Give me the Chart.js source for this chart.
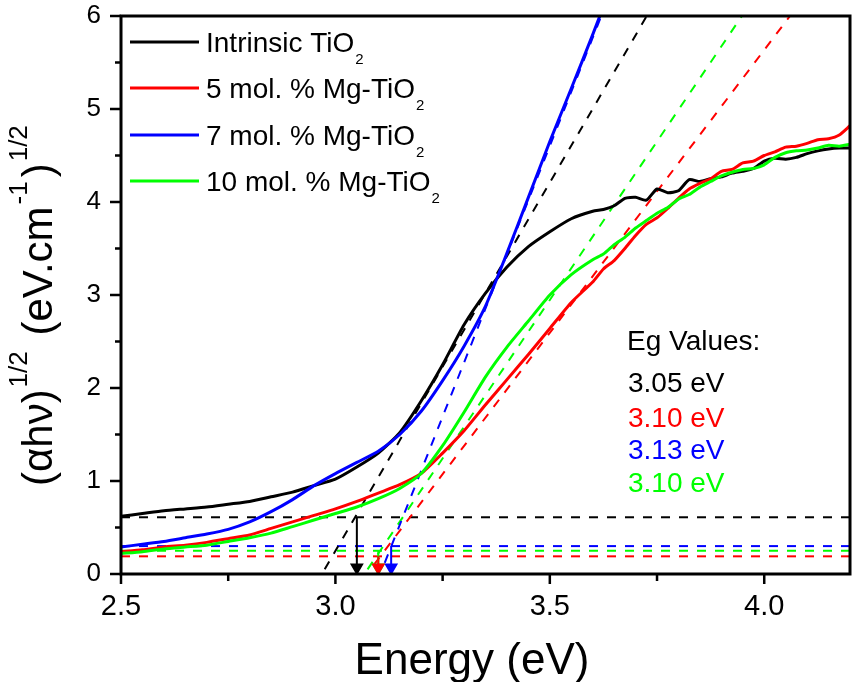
<!DOCTYPE html>
<html>
<head>
<meta charset="utf-8">
<script src="https://cdn.jsdelivr.net/npm/chart.js@4.4.0/dist/chart.umd.min.js"></script>
<style>
html, body { margin: 0; padding: 0; background: #fff; }
</style>
</head>
<body>
<canvas id="mycanvas" width="853" height="682"></canvas>
<script>
// photon energy (eV), shared by all four curves
var energy = [2.50, 2.55, 2.60, 2.65, 2.70, 2.75, 2.80, 2.85, 2.90, 2.95,
              3.00, 3.05, 3.10, 3.15, 3.20, 3.25, 3.30, 3.35, 3.40, 3.45,
              3.50, 3.55, 3.60, 3.625, 3.65, 3.675, 3.70, 3.725, 3.75, 3.775,
              3.80, 3.825, 3.85, 3.875, 3.90, 3.925, 3.95, 3.975, 4.00, 4.025,
              4.05, 4.075, 4.10, 4.125, 4.15, 4.175, 4.20];

// (alpha h nu)^1/2 for each sample
var intrinsic = [0.62, 0.65, 0.68, 0.70, 0.72, 0.75, 0.78, 0.83, 0.88, 0.95,
                 1.02, 1.15, 1.30, 1.52, 1.86, 2.25, 2.68, 3.02, 3.30, 3.52,
                 3.68, 3.82, 3.90, 3.92, 3.96, 4.04, 4.05, 4.02, 4.14, 4.10,
                 4.12, 4.24, 4.22, 4.25, 4.27, 4.31, 4.33, 4.36, 4.44, 4.47,
                 4.46, 4.48, 4.52, 4.55, 4.57, 4.58, 4.58];
var mg5 = [0.24, 0.26, 0.29, 0.31, 0.34, 0.38, 0.42, 0.49, 0.56, 0.63,
           0.70, 0.78, 0.87, 0.96, 1.08, 1.30, 1.54, 1.82, 2.09, 2.36,
           2.64, 2.92, 3.14, 3.28, 3.37, 3.50, 3.64, 3.76, 3.83, 3.93,
           4.04, 4.14, 4.20, 4.25, 4.33, 4.35, 4.42, 4.44, 4.50, 4.54,
           4.59, 4.60, 4.63, 4.67, 4.68, 4.72, 4.82];
var mg7 = [0.29, 0.32, 0.35, 0.39, 0.43, 0.48, 0.56, 0.67, 0.80, 0.95,
           1.08, 1.20, 1.32, 1.50, 1.75, 2.08, 2.45, 2.88, 3.45, 4.05,
           4.65, 5.22, 5.80, 6.10, null, null, null, null, null, null,
           null, null, null, null, null, null, null, null, null, null,
           null, null, null, null, null, null, null];
var mg10 = [0.22, 0.24, 0.27, 0.29, 0.31, 0.35, 0.39, 0.44, 0.51, 0.58,
            0.65, 0.72, 0.81, 0.92, 1.08, 1.38, 1.74, 2.12, 2.44, 2.72,
            3.00, 3.22, 3.38, 3.44, 3.54, 3.62, 3.72, 3.80, 3.88, 3.94,
            4.03, 4.08, 4.16, 4.22, 4.28, 4.32, 4.35, 4.36, 4.40, 4.48,
            4.53, 4.55, 4.56, 4.58, 4.61, 4.60, 4.62];

var names = ['Intrinsic TiO', '5 mol. % Mg-TiO', '7 mol. % Mg-TiO', '10 mol. % Mg-TiO'];
var colors = ['#000000', '#ff0000', '#0000ff', '#00ff00'];
var series = [intrinsic, mg5, mg7, mg10];

// Tauc fits: tangent end points, baseline levels and band gaps
var fitE = [[2.975, 3.726], [3.090, 4.060], [3.115, 3.620], [3.075, 3.948]];
var fitY = [[0.05, 6.0], [0.10, 6.0], [0.12, 6.0], [0.05, 6.0]];
var baseline = [0.61, 0.19, 0.30, 0.25];
var egValues = [3.05, 3.10, 3.13, 3.10];

var xTicks = [2.5, 3.0, 3.5, 4.0];
var xMinor = [2.75, 3.25, 3.75];
var yTicks = [0, 1, 2, 3, 4, 5, 6];

var FONT = "'Liberation Sans', Arial, sans-serif";

var datasets = [];
for (var i = 0; i < 4; i++) {
    // horizontal baseline
    datasets.push({
        data: [{x: 2.5, y: baseline[i]}, {x: 4.2, y: baseline[i]}],
        borderColor: colors[i], borderWidth: 2, borderDash: [9, 9],
        pointRadius: 0, order: 10
    });
    // tangent
    datasets.push({
        data: [{x: fitE[i][0], y: fitY[i][0]}, {x: fitE[i][1], y: fitY[i][1]}],
        borderColor: colors[i], borderWidth: 2, borderDash: [9, 9],
        pointRadius: 0, order: 9
    });
    // arrow down to the band gap
    datasets.push({
        data: [{x: egValues[i], y: baseline[i]}, {x: egValues[i], y: 0.07}],
        borderColor: colors[i], borderWidth: 2,
        pointStyle: 'triangle', pointRotation: 180,
        pointRadius: [0, 6], pointBackgroundColor: colors[i],
        pointBorderColor: colors[i], order: 8
    });
}
for (var i = 3; i >= 0; i--) {
    var pts = [];
    for (var j = 0; j < energy.length; j++) {
        if (series[i][j] !== null) pts.push({x: energy[j], y: series[i][j]});
    }
    datasets.push({
        data: pts, borderColor: colors[i], borderWidth: 3,
        pointRadius: 0, tension: 0.2, order: 4 - i
    });
}

var decorations = {
    id: 'decorations',
    afterDraw: function(chart) {
        var ctx = chart.ctx;
        var a = chart.chartArea;
        var xs = chart.scales.x, ys = chart.scales.y;
        ctx.save();
        ctx.strokeStyle = '#000';
        ctx.lineWidth = 3;
        ctx.strokeRect(a.left, a.top, a.right - a.left, a.bottom - a.top);
        ctx.lineWidth = 2.5;
        ctx.beginPath();
        xTicks.forEach(function(v) {
            var px = xs.getPixelForValue(v);
            ctx.moveTo(px, a.bottom); ctx.lineTo(px, a.bottom + 10);
        });
        xMinor.forEach(function(v) {
            var px = xs.getPixelForValue(v);
            ctx.moveTo(px, a.bottom); ctx.lineTo(px, a.bottom + 7);
        });
        yTicks.forEach(function(v) {
            var py = ys.getPixelForValue(v);
            ctx.moveTo(a.left, py); ctx.lineTo(a.left - 11, py);
            if (v < 6) {
                py = ys.getPixelForValue(v + 0.5);
                ctx.moveTo(a.left, py); ctx.lineTo(a.left - 6, py);
            }
        });
        ctx.stroke();

        // legend
        var ly = [42, 88, 135, 181];
        for (var i = 0; i < 4; i++) {
            ctx.strokeStyle = colors[i];
            ctx.lineWidth = 3;
            ctx.beginPath();
            ctx.moveTo(130, ly[i]); ctx.lineTo(199, ly[i]);
            ctx.stroke();
            ctx.fillStyle = '#000';
            ctx.font = '28px ' + FONT;
            ctx.textBaseline = 'alphabetic';
            ctx.fillText(names[i], 206, ly[i] + 10);
            var w = ctx.measureText(names[i]).width;
            ctx.font = '15px ' + FONT;
            ctx.fillText('2', 206 + w + 1, ly[i] + 22);
        }

        // Eg values
        ctx.font = '28px ' + FONT;
        ctx.fillStyle = '#000';
        ctx.fillText('Eg Values:', 627, 350);
        var eb = [392, 427, 459, 492];
        for (var i = 0; i < 4; i++) {
            ctx.fillStyle = colors[i];
            ctx.fillText(egValues[i].toFixed(2) + ' eV', 628, eb[i]);
        }

        // x title
        ctx.fillStyle = '#000';
        ctx.font = '44px ' + FONT;
        ctx.textAlign = 'center';
        ctx.fillText('Energy (eV)', 472, 674);

        // y title with superscripts
        ctx.translate(52, 486);
        ctx.rotate(-Math.PI / 2);
        ctx.textAlign = 'left';
        var parts = [['(\u03b1h\u03bd)', 0], ['1/2', 1], [' (eV.cm', 0], ['-1', 1], [')', 0], ['1/2', 1]];
        var x = 0;
        parts.forEach(function(p) {
            ctx.font = (p[1] ? '26px ' : '42px ') + FONT;
            ctx.fillText(p[0], x, p[1] ? -25 : 0);
            x += ctx.measureText(p[0]).width + (p[1] ? 4 : 2);
        });
        ctx.restore();
    }
};

var ctx = document.getElementById('mycanvas');
var chart = new Chart(ctx, {
    type: 'line',
    data: {datasets: datasets},
    options: {
        responsive: false,
        animation: false,
        layout: {autoPadding: false, padding: {top: 16, right: 3, left: 0, bottom: 0}},
        plugins: {legend: {display: false}, tooltip: {enabled: false}},
        scales: {
            x: {
                type: 'linear', min: 2.5, max: 4.2,
                grid: {display: false, drawTicks: false},
                border: {display: false},
                afterBuildTicks: function(s) { s.ticks = xTicks.map(function(v) { return {value: v}; }); },
                afterFit: function(s) {
                    s.height = 108;
                    s.paddingLeft = 0; s.paddingRight = 0;
                },
                ticks: {
                    padding: 16, color: '#000',
                    font: {family: FONT, size: 29},
                    callback: function(v) { return v.toFixed(1); }
                }
            },
            y: {
                type: 'linear', min: 0, max: 6,
                grid: {display: false, drawTicks: false},
                border: {display: false},
                afterBuildTicks: function(s) { s.ticks = yTicks.map(function(v) { return {value: v}; }); },
                afterFit: function(s) {
                    s.width = 121;
                    s.paddingTop = 0; s.paddingBottom = 0;
                },
                ticks: {
                    padding: 20, color: '#000',
                    font: {family: FONT, size: 26}
                }
            }
        }
    },
    plugins: [decorations]
});
</script>
</body>
</html>
